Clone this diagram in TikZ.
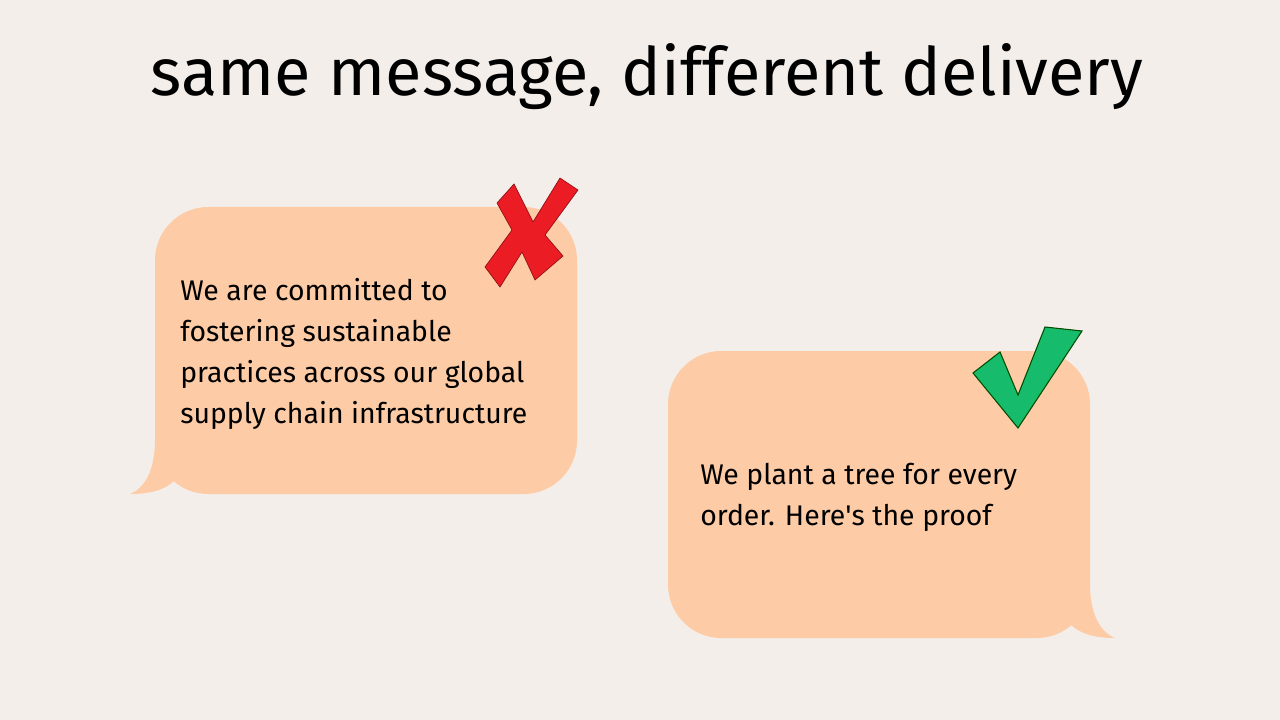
\documentclass[tikz,border=0pt]{standalone}
\usepackage{fontspec}
\setmainfont{Fira Sans}
\definecolor{bg}{HTML}{F3EEEA}
\definecolor{bub}{HTML}{FDCBA5}
\definecolor{xred}{HTML}{EC1C24}
\definecolor{ckg}{HTML}{16BC6C}
\tikzset{bubble/.style={fill=bub,draw=none},
 body/.style={anchor=base west,align=left,font=\fontsize{21.3}{30.75}\selectfont,inner sep=0pt}}
\begin{document}
\begin{tikzpicture}[x=0.75pt,y=-0.75pt]
\useasboundingbox[fill=bg] (0,0) rectangle (1280,720);
\node (title) at (647,77) {\fontsize{50}{58}\selectfont same message, different delivery};
% bubble 1
\fill[bub,rounded corners=40] (155,494) -- (155,207) -- (577,207) -- (577,494) -- cycle;
\fill[bub] (155,440) .. controls (155,470) and (145,488) .. (130,494) .. controls (150,494) and (165,490) .. (175,480) -- (175,440) -- cycle;
\node[body] (t1) at (180,423) {We are committed to\\fostering sustainable\\practices across our global\\supply chain infrastructure};
% red X
\fill[xred,draw=xred!60!black,line width=0.5] (497,203) -- (514,184) -- (533,222) -- (560,178) -- (578,190) -- (545,235) -- (563,256) -- (535,280) -- (522,252) -- (500,287) -- (485,267) -- (512,230) -- cycle;
% bubble 2
\fill[bub,rounded corners=40] (668,638) -- (668,351) -- (1090,351) -- (1090,638) -- cycle;
\fill[bub] (1090,584) .. controls (1090,614) and (1100,632) .. (1115,638) .. controls (1095,638) and (1080,634) .. (1070,624) -- (1070,584) -- cycle;
\node[body] (t2) at (700,525) {We plant a tree for every\\order. Here\textquotesingle s the proof};
% check
\fill[ckg,draw=black!70!green,line width=0.8] (973,373) -- (1000,352) -- (1018,395) -- (1045,327) -- (1082,331) -- (1018,428) -- cycle;
\end{tikzpicture}
\end{document}
